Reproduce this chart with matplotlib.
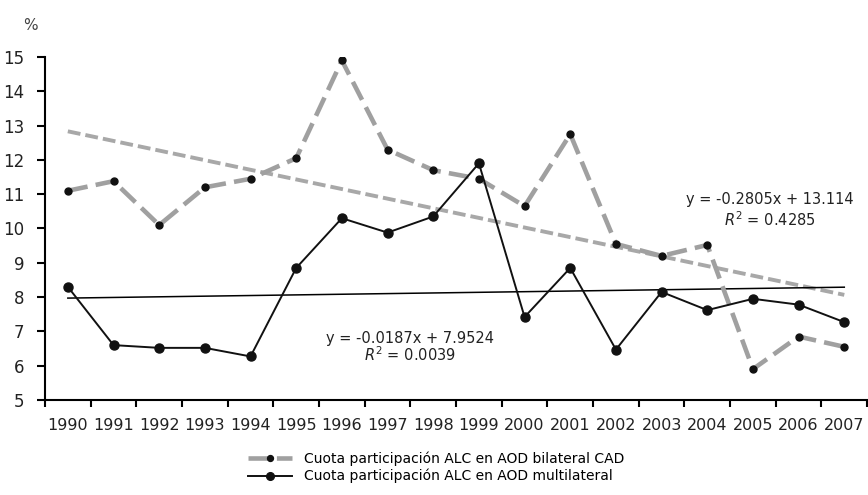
import numpy as np
import matplotlib
matplotlib.use('Agg')
import matplotlib.pyplot as plt

plt.rcParams['font.family'] = ['DejaVu Sans']

years = ['1990', '1991', '1992', '1993', '1994', '1995', '1996', '1997', '1998',
         '1999', '2000', '2001', '2002', '2003', '2004', '2005', '2006', '2007']
bilateral = [11.1, 11.38, 10.1, 11.2, 11.45, 12.05, 14.9, 12.3, 11.7,
             11.45, 10.65, 12.75, 9.55, 9.2, 9.52, 5.9, 6.85, 6.55]
multilateral = [8.3, 6.6, 6.52, 6.52, 6.27, 8.85, 10.3, 9.88, 10.35,
                11.9, 7.42, 8.85, 6.47, 8.15, 7.62, 7.95, 7.78, 7.27]

# trend coefficients (slope, intercept) as drawn
trend_bil = (-0.2805, 13.114)
trend_mul = (0.0187, 7.9524)
label_bil = 'y = -0.2805x + 13.114'
label_mul = 'y = -0.0187x + 7.9524'
r2_bil = '0.4285'
r2_mul = '0.0039'

gray = '#a0a0a0'

fig = plt.figure(figsize=(8.68, 4.95), dpi=100)
ax = fig.add_axes([45/868, 1-400/495, 1-45/868-0.001, (400-57)/495])

x = np.arange(len(years))
t = x + 1

ax.plot(x, trend_bil[0]*t + trend_bil[1], color='#a8a8a8', lw=2.8,
        linestyle=(0, (3.3, 1.3)), solid_capstyle='butt', zorder=2)
ax.plot(x, trend_mul[0]*t + trend_mul[1], color='black', lw=1.1, zorder=2)

ax.plot(x, bilateral, color=gray, lw=3.3, linestyle=(0, (4.4, 1.8)),
        marker='o', ms=5, mfc='#111111', mec='#111111', zorder=3,
        label='Cuota participación ALC en AOD bilateral CAD')
ax.plot(x, multilateral, color='#111111', lw=1.4,
        marker='o', ms=6.5, mfc='#111111', mec='#111111', zorder=4,
        label='Cuota participación ALC en AOD multilateral')

ax.set_xlim(-0.5, len(years) - 0.5)
ax.set_ylim(5, 15)
ax.set_yticks(range(5, 16))
ax.set_xticks(x)
ax.set_xticklabels(years)
ax.set_xticks(np.arange(-0.5, len(years)), minor=True)
ax.tick_params(axis='x', which='major', length=0, labelsize=11.5, pad=13,
               labelcolor='#222222')
ax.tick_params(axis='x', which='minor', length=5, width=1.5, direction='out')
ax.tick_params(axis='y', length=6, width=1.5, labelsize=12, pad=9,
               labelcolor='#222222')
for s in ['top', 'right']:
    ax.spines[s].set_visible(False)
for s in ['left', 'bottom']:
    ax.spines[s].set_linewidth(1.5)

fig.text(30/868, 1-25/495, '%', fontsize=11, ha='center', va='center', color='#444444')

ax.text(15.38, 10.86, label_bil, fontsize=10.5, ha='center', va='center', color='#222222')
ax.text(15.38, 10.25, '$R^2$ = ' + r2_bil, fontsize=10.5, ha='center', va='center', color='#222222')
ax.text(7.5, 6.8, label_mul, fontsize=10.5, ha='center', va='center', color='#222222')
ax.text(7.5, 6.31, '$R^2$ = ' + r2_mul, fontsize=10.5, ha='center', va='center', color='#222222')

fig.legend(loc='upper left', bbox_to_anchor=(248/868, 1-451/495), frameon=False,
           fontsize=10, handlelength=3.2, handletextpad=0.8, labelspacing=0.25,
           borderaxespad=0, borderpad=0, markerscale=0.85)

fig.savefig('out.png', dpi=100)
